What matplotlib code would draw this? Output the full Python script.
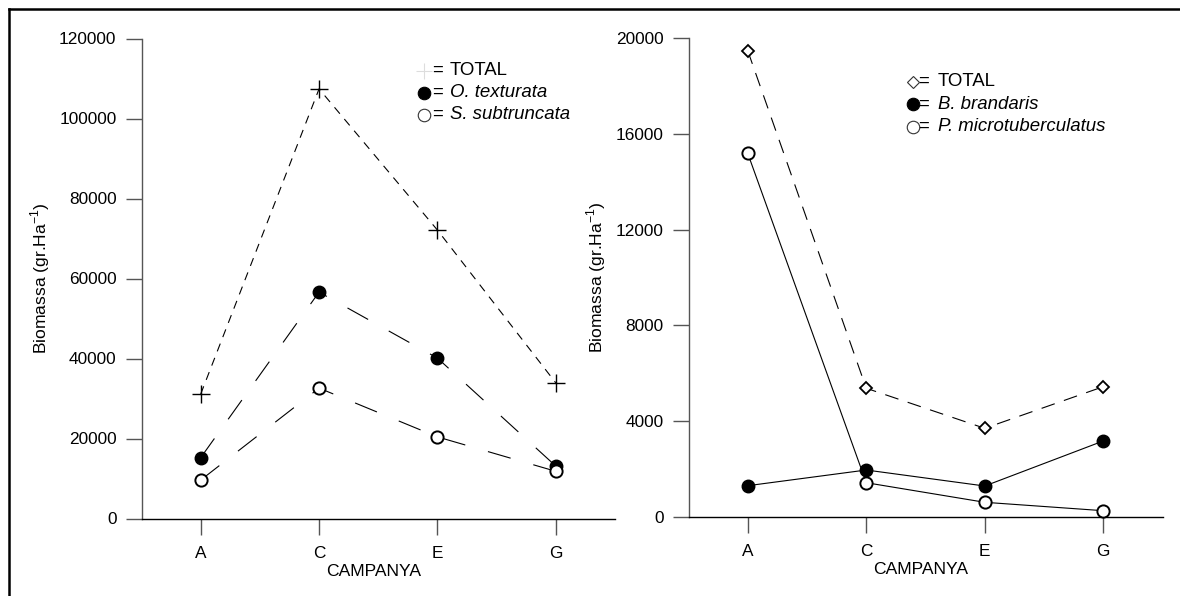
import matplotlib
matplotlib.use("Agg")
import matplotlib.pyplot as plt
from matplotlib.lines import Line2D

plt.rcParams['font.family'] = ['Liberation Sans', 'DejaVu Sans']
plt.rcParams['lines.scale_dashes'] = False

# Sampling campaigns
campaigns = ["A", "C", "E", "G"]

# Left panel: biomass (gr.Ha-1)
left_total = [31100, 107400, 72100, 33900]
o_texturata = [15200, 56600, 40100, 13100]
s_subtruncata = [9600, 32600, 20400, 11800]
left_yticks = [0, 20000, 40000, 60000, 80000, 100000, 120000]

# Right panel: biomass (gr.Ha-1)
right_total = [19480, 5370, 3695, 5435]
b_brandaris = [1296, 1952, 1283, 3165]
p_microtuberculatus = [15190, 1421, 602, 251]
right_yticks = [0, 4000, 8000, 12000, 16000, 20000]

W, H = 1180, 596
fig = plt.figure(figsize=(W / 100, H / 100), dpi=100)

def box(x0, x1, ytop, ybot):
    return [x0 / W, 1 - ybot / H, (x1 - x0) / W, (ybot - ytop) / H]

axL = fig.add_axes(box(141.5, 615, 38.5, 518.5))
axR = fig.add_axes(box(688.5, 1162.5, 38.3, 516.7))

TICK_FS = 12.4
LABEL_FS = 12.6
LEG_FS = 13.4
GRAY = "#555555"

def style_axes(ax, yticks, ylim, ylabel_x):
    x = range(len(campaigns))
    ax.set_xlim(-0.5, 3.5)
    ax.set_ylim(*ylim)
    ax.set_xticks(list(x))
    ax.set_xticklabels(campaigns)
    ax.set_yticks(yticks)
    ax.set_yticklabels([str(v) for v in yticks])
    for s in ("top", "right"):
        ax.spines[s].set_visible(False)
    ax.spines["left"].set_color(GRAY)
    ax.spines["left"].set_linewidth(1.0)
    ax.spines["bottom"].set_color("black")
    ax.spines["bottom"].set_linewidth(1.0)
    ax.tick_params(axis="y", length=11.5, width=1.0, color=GRAY, pad=6.5,
                   labelsize=TICK_FS)
    ax.tick_params(axis="x", length=11.5, width=1.0, color=GRAY, pad=8,
                   labelsize=TICK_FS)
    ax.set_xlabel("CAMPANYA", fontsize=LABEL_FS)
    ax.xaxis.label.set_va("center")
    ax.xaxis.set_label_coords(0.49, -0.11)
    ax.set_ylabel(r"Biomassa (gr.Ha$^{\mathregular{-1}}$)", fontsize=LABEL_FS)
    ax.yaxis.label.set_va("center")
    ax.yaxis.set_label_coords(ylabel_x, 0.5)
    ax.patch.set_alpha(0)

x = list(range(len(campaigns)))
LW = 0.8
LONG_DASH = (0, (17, 17))

# ---- left panel ----
axL.plot(x, left_total, color="black", lw=LW, linestyle=(0, (6.0, 5.0)),
         marker="+", ms=12.5, mew=1.0, clip_on=False, zorder=3)
axL.plot(x, o_texturata, color="black", lw=LW, linestyle=LONG_DASH,
         marker="o", ms=9, mfc="black", mec="black", clip_on=False, zorder=3)
axL.plot(x, s_subtruncata, color="black", lw=LW, linestyle=LONG_DASH,
         marker="o", ms=8.8, mfc="white", mec="black", mew=1.4, clip_on=False,
         zorder=3)
style_axes(axL, left_yticks, (0, 120000), -0.2144)

# ---- right panel ----
axR.plot(x, right_total, color="black", lw=LW, linestyle=(0, (10, 7)),
         marker="D", ms=6.2, mfc="white", mec="black", mew=1.3, clip_on=False,
         zorder=3)
axR.plot(x, b_brandaris, color="black", lw=LW, linestyle="-",
         marker="o", ms=9, mfc="black", mec="black", clip_on=False, zorder=3)
axR.plot(x, p_microtuberculatus, color="black", lw=LW, linestyle="-",
         marker="o", ms=8.8, mfc="white", mec="black", mew=1.4, clip_on=False,
         zorder=3)
style_axes(axR, right_yticks, (0, 20000), -0.194)

# ---- key boxes drawn as text rows ----
def key_row(ax, xm, xeq, xname, y, marker, mfc, mec, name, italic, ms=9, mew=0.8):
    ax.plot([xm], [y], transform=ax.transAxes, marker=marker, ms=ms,
            mfc=mfc, mec=mec, mew=mew, linestyle="none", clip_on=False)
    ax.text(xeq, y, "=", transform=ax.transAxes, fontsize=LEG_FS,
            va="center", ha="left")
    ax.text(xname, y, name, transform=ax.transAxes, fontsize=LEG_FS,
            va="center", ha="left", style="italic" if italic else "normal")

def px_x(ax_left, ax_w, px):
    return (px - ax_left) / ax_w

def px_y(ax_bot, ax_h, py):
    return (ax_bot - py) / ax_h

# left key
lx = lambda p: px_x(141.5, 473.5, p)
ly = lambda p: px_y(518.5, 480.0, p)
key_row(axL, lx(424), lx(432), lx(450), ly(70.5), "+", "none", "#dddddd",
        "TOTAL", False, ms=12, mew=0.8)
key_row(axL, lx(424), lx(432), lx(450), ly(92.5), "o", "black", "black",
        "O. texturata", True)
key_row(axL, lx(424), lx(432), lx(450), ly(114.5), "o", "white", "#333333",
        "S. subtruncata", True)

# right key
rx = lambda p: px_x(688.5, 474.0, p)
ry = lambda p: px_y(516.7, 478.4, p)
key_row(axR, rx(913), rx(918), rx(937.5), ry(81.7), "D", "white", "#333333",
        "TOTAL", False, ms=6.2)
key_row(axR, rx(913), rx(918), rx(937.5), ry(104.5), "o", "black", "black",
        "B. brandaris", True)
key_row(axR, rx(913), rx(918), rx(937.5), ry(126.7), "o", "white", "#333333",
        "P. microtuberculatus", True)

# frame lines along the top and left edges of the figure
fig.add_artist(Line2D([9 / W, 1.0], [1 - 9 / H, 1 - 9 / H],
                      color="black", lw=1.8, transform=fig.transFigure))
fig.add_artist(Line2D([9 / W, 9 / W], [0.0, 1 - 9 / H],
                      color="black", lw=1.8, transform=fig.transFigure))

fig.savefig("out.png", dpi=100, facecolor="white")
